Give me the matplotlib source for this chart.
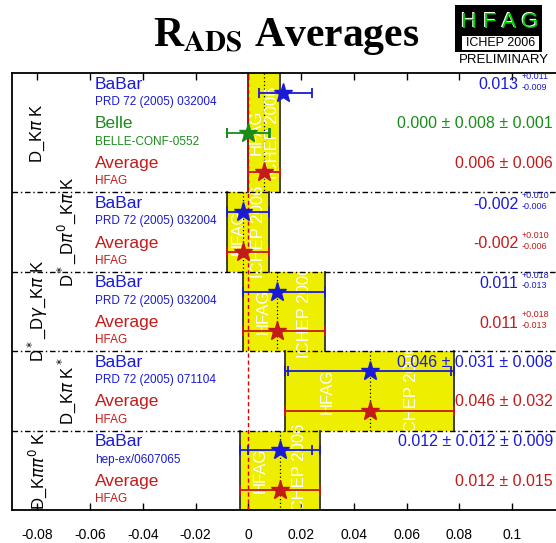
import numpy as np
import matplotlib
matplotlib.use("Agg")
import matplotlib.pyplot as plt
import matplotlib.patches as pat

plt.rcParams['font.family'] = ['Liberation Sans', 'DejaVu Sans']
plt.rcParams['axes.unicode_minus'] = False

# ---- data ----
group_labels = ["D_K$\\pi$ K", "D$^*$_D$\\pi^0$_K$\\pi$ K", "D$^*$_D$\\gamma$_K$\\pi$ K",
                "D_K$\\pi$ K$^*$", "D_K$\\pi\\pi^0$ K"]
group_sizes = [3, 2, 2, 2, 2]
exp_names = ['BaBar', 'Belle', 'Average', 'BaBar', 'Average', 'BaBar', 'Average',
             'BaBar', 'Average', 'BaBar', 'Average']
exp_refs = ['PRD 72 (2005) 032004', 'BELLE-CONF-0552', 'HFAG',
            'PRD 72 (2005) 032004', 'HFAG',
            'PRD 72 (2005) 032004', 'HFAG',
            'PRD 72 (2005) 071104', 'HFAG',
            'hep-ex/0607065', 'HFAG']
exp_kind = ['babar', 'belle', 'avg', 'babar', 'avg', 'babar', 'avg', 'babar', 'avg', 'babar', 'avg']
values = [0.013, 0.000, 0.006, -0.002, -0.002, 0.011, 0.011, 0.046, 0.046, 0.012, 0.012]
err_hi = [0.011, 0.008, 0.006, 0.010, 0.010, 0.018, 0.018, 0.031, 0.032, 0.012, 0.015]
err_lo = [0.009, 0.008, 0.006, 0.006, 0.006, 0.013, 0.013, 0.031, 0.032, 0.012, 0.015]
err_sys = [0, 0.001, 0, 0, 0, 0, 0, 0.008, 0, 0.009, 0]
tick_vals = [-0.08, -0.06, -0.04, -0.02, 0, 0.02, 0.04, 0.06, 0.08, 0.1]
tick_labels = ['-0.08', '-0.06', '-0.04', '-0.02', '0', '0.02', '0.04', '0.06', '0.08', '0.1']

colors = {'babar': '#1a1ad6', 'belle': '#1a8c1a', 'avg': '#c41a1a'}

W, H = 556, 543
fig = plt.figure(figsize=(W / 100, H / 100), dpi=100)
ax = fig.add_axes([11.7 / W, 1 - 510 / H, 1 - 11.7 / W, (510 - 73) / H])

# pixel -> data helpers for layout
x0px, scale = 248.3, 2637.5
def px(x):
    return (x - x0px) / scale

ax.set_xlim(px(11.7), px(556))
nrows = sum(group_sizes)
ax.set_ylim(nrows, 0)

yellow = '#eeee00'
starts = np.cumsum([0] + group_sizes[:-1])
for g, (s, n) in enumerate(zip(starts, group_sizes)):
    ia = s + n - 1  # average row
    lo = values[ia] - err_lo[ia]
    hi = values[ia] + err_hi[ia]
    rect = pat.Rectangle((lo, s), hi - lo, n, facecolor=yellow, edgecolor='none', zorder=1)
    ax.add_patch(rect)
    ax.plot([lo, lo], [s, s + n], color='#303030', lw=1.3, zorder=2)
    ax.plot([hi, hi], [s, s + n], color='#303030', lw=1.3, zorder=2)
    ax.plot([values[ia], values[ia]], [s, s + n], color='black', lw=0.9, ls=(0, (1, 2)), zorder=2)
    for frac, txt in [(0.25, 'HFAG'), (0.75, 'ICHEP 2006')]:
        t = ax.text(lo + frac * (hi - lo), s + n / 2, txt, rotation=90, color='white',
                    fontsize=12, ha='center', va='center', zorder=2)
        t.set_clip_path(rect)
    if g > 0:
        ax.plot([px(11.7), px(556)], [s, s], color='black', lw=1, ls=(0, (4, 2, 1, 2)), zorder=3)
    ax.text(px(38 if g % 2 == 0 else 67), s + n / 2, group_labels[g], rotation=90,
            fontsize=12, ha='center', va='center')

ax.axvline(0, color='#dd0000', lw=1, ls=(0, (3, 2)), zorder=4)

for i in range(nrows):
    c = colors[exp_kind[i]]
    y = i + 0.5
    v = values[i]
    tot_hi = np.hypot(err_hi[i], err_sys[i])
    tot_lo = np.hypot(err_lo[i], err_sys[i])
    ax.errorbar([v], [y], xerr=[[tot_lo], [tot_hi]], fmt='none', ecolor=c, elinewidth=1.3,
                capsize=3.5, capthick=1.3, zorder=5)
    if err_sys[i] > 0:
        ax.plot([v - err_lo[i], v + err_hi[i]], [y, y], '|', color=c, ms=7, mew=1.3, zorder=5)
    ax.plot([v], [y], '*', color=c, ms=14, mec=c, zorder=6)

    ax.text(px(95), y - 0.22, exp_names[i], color=c, fontsize=12.5, ha='left', va='center')
    ax.text(px(95), y + 0.23, exp_refs[i], color=c, fontsize=8.5, ha='left', va='center')

    if err_sys[i] > 0:
        s = f"{v:.3f} ± {err_hi[i]:.3f} ± {err_sys[i]:.3f}"
        ax.text(px(553), y - 0.22, s, color=c, fontsize=11.5, ha='right', va='center', zorder=7)
    elif err_hi[i] == err_lo[i]:
        s = f"{v:.3f} ± {err_hi[i]:.3f}"
        ax.text(px(553), y - 0.22, s, color=c, fontsize=11.5, ha='right', va='center', zorder=7)
    else:
        ax.text(px(518), y - 0.2, f"{v:.3f}", color=c, fontsize=11.5, ha='right', va='center', zorder=7)
        ax.text(px(522), y - 0.41, f"+{err_hi[i]:.3f}", color=c, fontsize=6.5, ha='left', va='center', zorder=7)
        ax.text(px(522), y - 0.14, f"-{err_lo[i]:.3f}", color=c, fontsize=6.5, ha='left', va='center', zorder=7)

ax.set_yticks([])
ax.set_xticks(tick_vals)
ax.set_xticklabels(tick_labels, fontsize=10)
ax.tick_params(axis='x', direction='in', top=True, length=5, width=1, pad=13)
for side in ['top', 'bottom', 'left']:
    ax.spines[side].set_linewidth(1.3)
ax.spines['right'].set_visible(False)

# title
fig.text(286 / W, 1 - 36 / H, "R$_{\\mathbf{ADS}}$ Averages", fontsize=30, ha='center', va='center',
         family='Liberation Serif', weight='bold', math_fontfamily='stix')

# HFAG logo
logo = fig.add_axes([455 / W, 1 - 52 / H, 87 / W, 47 / H])
logo.set_xlim(0, 1)
logo.set_ylim(0, 1)
logo.axis('off')
logo.add_patch(pat.Rectangle((0, 0), 1, 1, facecolor='black', edgecolor='black'))
logo.add_patch(pat.Rectangle((0.08, 0.05), 0.88, 0.3, facecolor='white', edgecolor='none'))
logo.text(0.51, 0.64, 'H F A G', color='white', fontsize=16, ha='center', va='center')
logo.text(0.52, 0.63, 'H F A G', color='#00cc00', fontsize=16, ha='center', va='center')
logo.text(0.52, 0.2, 'ICHEP 2006', color='black', fontsize=9, ha='center', va='center')
fig.text(504 / W, 1 - 60 / H, 'PRELIMINARY', fontsize=9.5, ha='center', va='center')

fig.savefig('out.png', dpi=100)
